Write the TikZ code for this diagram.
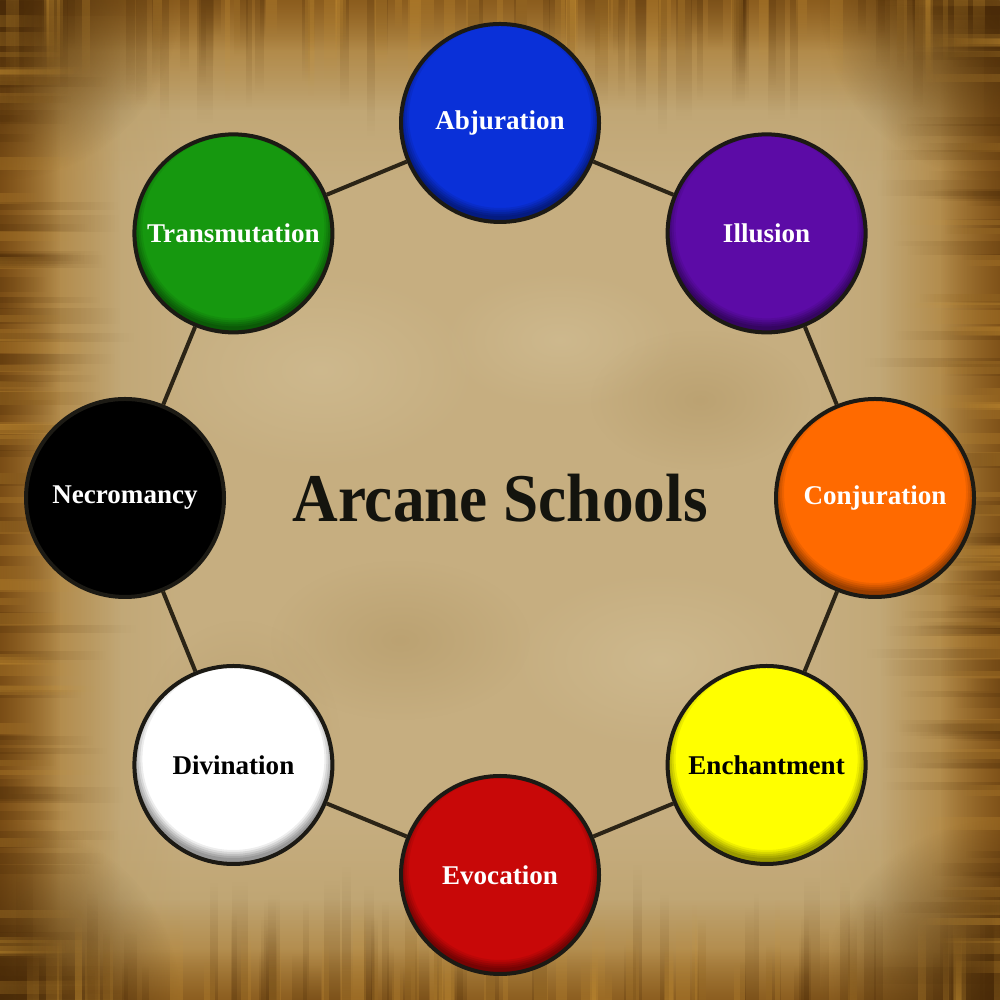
\documentclass[tikz,border=0pt]{standalone}
\usepackage{fontspec}
\usepackage{graphicx}
\setmainfont{Liberation Serif}
\usetikzlibrary{fadings}

% parchment palette
\definecolor{pA}{HTML}{C6AE80}
\definecolor{pB}{HTML}{B89A62}
\definecolor{pC}{HTML}{A8762A}
\definecolor{pD}{HTML}{6E4210}
\definecolor{pE}{HTML}{3E2406}
\definecolor{streakDark}{HTML}{4A2A08}
\definecolor{streakGold}{HTML}{D49C38}
\definecolor{blotLight}{HTML}{DCCCA6}
\definecolor{blotDark}{HTML}{A88C58}
% school colours
\definecolor{abjCol}{HTML}{0A30D8}
\definecolor{illCol}{HTML}{5C0BA6}
\definecolor{conCol}{HTML}{FF6A00}
\definecolor{encCol}{HTML}{FFFF00}
\definecolor{evoCol}{HTML}{C80808}
\definecolor{divCol}{HTML}{FFFFFF}
\definecolor{necCol}{HTML}{000000}
\definecolor{traCol}{HTML}{16980F}
\definecolor{rimCol}{HTML}{1C1A14}
\definecolor{linkCol}{HTML}{2B2416}
\definecolor{titleCol}{HTML}{14140E}

% soft edges: opaque on the named side, clear on the opposite one
\tikzfading[name=fadeT, top color=transparent!0, bottom color=transparent!100]
\tikzfading[name=fadeB, bottom color=transparent!0, top color=transparent!100]
\tikzfading[name=fadeL, left color=transparent!0, right color=transparent!100]
\tikzfading[name=fadeR, right color=transparent!0, left color=transparent!100]
\tikzfading[name=softblob, inner color=transparent!0, outer color=transparent!100]

\begin{document}
\begin{tikzpicture}[x=1cm,y=1cm,
  school/.style={circle, minimum size=1.98cm, inner sep=0pt,
    draw=rimCol, line width=0.04cm,
    font=\bfseries\fontsize{7.7}{9}\selectfont,
    path picture={
      \foreach \r/\o in {1.19/0.11,1.17/0.11,1.15/0.10,1.13/0.09,1.11/0.07}
        \draw[black, opacity=\o, line width=0.4cm]
          ([yshift=0.06cm]path picture bounding box.center) circle (\r cm);
    }},
  link/.style={draw=linkCol, line width=0.04cm},
  blot/.style={path fading=softblob, fill opacity=0.35}
]
\useasboundingbox (0,0) rectangle (10,10);

% ---- parchment sheet ----
\begin{scope}
  \clip (0,0) rectangle (10,10);
  \fill[pA] (0,0) rectangle (10,10);
  % mottled patches
  \fill[blot, blotLight] (3.2,6.3) ellipse (1.6 and 1.0);
  \fill[blot, blotLight] (6.6,3.4) ellipse (1.5 and 0.9);
  \fill[blot, blotLight] (5.6,6.6) ellipse (1.2 and 0.7);
  \fill[blot, blotDark] (4.0,3.6) ellipse (1.3 and 0.8);
  \fill[blot, blotDark] (7.0,6.0) ellipse (1.1 and 0.7);
  \fill[blot, blotDark] (2.4,2.6) ellipse (1.0 and 1.2);
  % scorched margins
  \fill[pB, path fading=fadeT, fill opacity=0.9] (0,8.2) rectangle (10,10);
  \fill[pB, path fading=fadeB, fill opacity=0.9] (0,0) rectangle (10,1.8);
  \fill[pB, path fading=fadeL, fill opacity=0.9] (0,0) rectangle (1.8,10);
  \fill[pB, path fading=fadeR, fill opacity=0.9] (8.2,0) rectangle (10,10);
  \fill[pC, path fading=fadeT, fill opacity=0.95] (0,8.9) rectangle (10,10);
  \fill[pC, path fading=fadeB, fill opacity=0.9] (0,0) rectangle (10,1.0);
  \fill[pC, path fading=fadeL, fill opacity=0.95] (0,0) rectangle (1.2,10);
  \fill[pC, path fading=fadeR, fill opacity=0.95] (8.8,0) rectangle (10,10);
  \fill[pD, path fading=fadeL, fill opacity=0.8] (0,0) rectangle (0.6,10);
  \fill[pD, path fading=fadeR, fill opacity=0.7] (9.4,0) rectangle (10,10);
  \fill[pD, path fading=fadeT, fill opacity=0.5] (0,9.5) rectangle (10,10);
  \fill[pD, path fading=fadeB, fill opacity=0.5] (0,0) rectangle (10,0.5);
  % darker corners
  \foreach \cx/\cy in {0/0,0/10,10/0,10/10}
    \fill[pE, path fading=softblob, fill opacity=0.8] (\cx,\cy) circle (1.8);
  % burnt fibres running in from the edges
  \pgfmathsetseed{11}
  \foreach \i in {1,...,60}{
    \pgfmathsetmacro\p{10*rnd}
    \pgfmathsetmacro\l{0.3+1.1*rnd}
    \pgfmathsetmacro\w{0.05+0.12*rnd}
    \fill[streakDark, path fading=fadeT, fill opacity=0.22] (\p,10) rectangle (\p+\w,10-\l);
    \fill[streakDark, path fading=fadeB, fill opacity=0.22] (10-\p,0) rectangle (10-\p+\w,\l);
    \fill[streakDark, path fading=fadeL, fill opacity=0.22] (0,\p) rectangle (\l,\p+\w);
    \fill[streakDark, path fading=fadeR, fill opacity=0.22] (10,10-\p) rectangle (10-\l,10-\p+\w);
  }
  \foreach \i in {1,...,45}{
    \pgfmathsetmacro\p{10*rnd}
    \pgfmathsetmacro\l{0.3+0.8*rnd}
    \pgfmathsetmacro\w{0.05+0.10*rnd}
    \fill[streakGold, path fading=fadeT, fill opacity=0.22] (\p,10) rectangle (\p+\w,10-\l);
    \fill[streakGold, path fading=fadeB, fill opacity=0.22] (10-\p,0) rectangle (10-\p+\w,\l);
    \fill[streakGold, path fading=fadeL, fill opacity=0.22] (0,\p) rectangle (\l,\p+\w);
    \fill[streakGold, path fading=fadeR, fill opacity=0.22] (10,10-\p) rectangle (10-\l,10-\p+\w);
  }
\end{scope}

% ---- title ----
\node[font=\bfseries\fontsize{18}{20}\selectfont, text=titleCol] (title) at (5,5.02)
  {\scalebox{1}[1.08]{Arcane Schools}};

% ---- the eight schools ----
\node[school, fill=abjCol, text=white] (abj) at (5.000,8.770) {Abjuration};
\node[school, fill=illCol, text=white] (ill) at (7.666,7.666) {Illusion};
\node[school, fill=conCol, text=white] (con) at (8.750,5.020) {Conjuration};
\node[school, fill=encCol, text=black] (enc) at (7.666,2.350) {Enchantment};
\node[school, fill=evoCol, text=white] (evo) at (5.000,1.250) {Evocation};
\node[school, fill=divCol, text=black] (div) at (2.334,2.350) {Divination};
\node[school, fill=necCol, text=white] (nec) at (1.250,5.020) {Necromancy};
\node[school, fill=traCol, text=white] (tra) at (2.334,7.666) {Transmutation};

% ---- ring of connections ----
\draw[link] (abj) -- (ill);
\draw[link] (ill) -- (con);
\draw[link] (con) -- (enc);
\draw[link] (enc) -- (evo);
\draw[link] (evo) -- (div);
\draw[link] (div) -- (nec);
\draw[link] (nec) -- (tra);
\draw[link] (tra) -- (abj);
\end{tikzpicture}
\end{document}
